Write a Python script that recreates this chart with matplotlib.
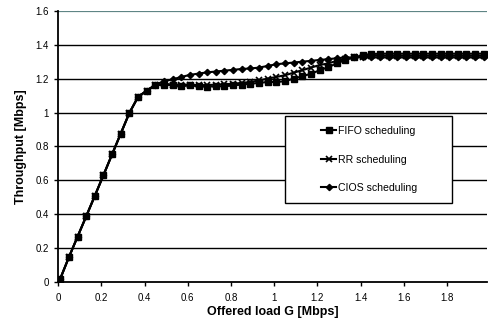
import matplotlib
matplotlib.use("Agg")
import matplotlib.pyplot as plt
from matplotlib.patches import Rectangle

plt.rcParams['font.family'] = ['Liberation Sans', 'DejaVu Sans']

# offered load G [Mbps]
carga = [0.00, 0.01, 0.05, 0.09, 0.13, 0.17, 0.21, 0.25, 0.29, 0.33,
         0.37, 0.41, 0.45, 0.49, 0.53, 0.57, 0.61, 0.65, 0.69, 0.73,
         0.77, 0.81, 0.85, 0.89, 0.93, 0.97, 1.01, 1.05, 1.09, 1.13,
         1.17, 1.21, 1.25, 1.29, 1.33, 1.37, 1.41, 1.45, 1.49, 1.53,
         1.57, 1.61, 1.65, 1.69, 1.73, 1.77, 1.81, 1.85, 1.89, 1.93,
         1.97]

fifo = [0.000, 0.020, 0.147, 0.268, 0.388, 0.509, 0.631, 0.754, 0.876, 0.998,
        1.092, 1.129, 1.160, 1.165, 1.160, 1.155, 1.160, 1.155, 1.153, 1.155,
        1.155, 1.160, 1.165, 1.170, 1.175, 1.180, 1.180, 1.185, 1.200, 1.214,
        1.229, 1.249, 1.268, 1.290, 1.310, 1.327, 1.337, 1.345, 1.347, 1.347,
        1.347, 1.347, 1.347, 1.347, 1.347, 1.347, 1.347, 1.347, 1.347, 1.347,
        1.347]

rr = [0.000, 0.020, 0.147, 0.268, 0.388, 0.509, 0.631, 0.754, 0.876, 0.998,
      1.092, 1.129, 1.160, 1.170, 1.165, 1.165, 1.165, 1.162, 1.162, 1.165,
      1.167, 1.170, 1.175, 1.180, 1.190, 1.200, 1.210, 1.220, 1.235, 1.250,
      1.265, 1.280, 1.290, 1.305, 1.315, 1.325, 1.330, 1.335, 1.335, 1.335,
      1.335, 1.335, 1.335, 1.335, 1.335, 1.335, 1.335, 1.335, 1.335, 1.335,
      1.335]

cios = [0.000, 0.020, 0.147, 0.268, 0.388, 0.509, 0.631, 0.754, 0.876, 0.998,
        1.092, 1.129, 1.165, 1.184, 1.196, 1.210, 1.222, 1.230, 1.237, 1.242,
        1.247, 1.252, 1.257, 1.260, 1.265, 1.275, 1.285, 1.290, 1.295, 1.300,
        1.305, 1.310, 1.315, 1.320, 1.325, 1.325, 1.325, 1.325, 1.325, 1.325,
        1.325, 1.325, 1.325, 1.325, 1.325, 1.325, 1.325, 1.325, 1.325, 1.325,
        1.325]

x_ticks = [0, 0.2, 0.4, 0.6, 0.8, 1.0, 1.2, 1.4, 1.6, 1.8]
x_labels = ['0', '0.2', '0.4', '0.6', '0.8', '1', '1.2', '1.4', '1.6', '1.8']
y_ticks = [0, 0.2, 0.4, 0.6, 0.8, 1.0, 1.2, 1.4, 1.6]
y_labels = ['0', '0.2', '0.4', '0.6', '0.8', '1', '1.2', '1.4', '1.6']

fig = plt.figure(figsize=(4.88, 3.27), dpi=100)
ax = fig.add_axes([0.119, 0.137, 0.879, 0.830])

# grade horizontal estilo excel
for y in y_ticks[1:-1]:
    ax.axhline(y, color='black', lw=1.0, zorder=1)
ax.axhline(1.6, color='#5f8585', lw=1.6, zorder=1)

ax.plot(carga, fifo, color='black', lw=1.5, marker='s', ms=4.5,
        label='FIFO scheduling', zorder=3)
ax.plot(carga, rr, color='black', lw=1.5, marker='x', ms=4.5, mew=1.2,
        label='RR scheduling', zorder=3)
ax.plot(carga, cios, color='black', lw=1.5, marker='D', ms=3.2,
        label='CIOS scheduling', zorder=3)

ax.set_xlim(0, 1.985)
ax.set_ylim(0, 1.6)
ax.set_xticks(x_ticks)
ax.set_xticklabels(x_labels)
ax.set_yticks(y_ticks)
ax.set_yticklabels(y_labels)
ax.tick_params(axis='both', labelsize=7, direction='out', length=3,
               width=1, colors='black')
ax.tick_params(axis='x', pad=5)

for lado in ['top', 'right']:
    ax.spines[lado].set_visible(False)
ax.spines['left'].set_linewidth(1.3)
ax.spines['bottom'].set_linewidth(1.3)
ax.spines['left'].set_zorder(4)
ax.spines['bottom'].set_zorder(4)

ax.set_xlabel('Offered load G [Mbps]', fontsize=9, fontweight='bold', labelpad=2)
ax.set_ylabel('Throughput [Mbps]', fontsize=9, fontweight='bold', labelpad=6)

# caixa da legenda (mais larga que o conteudo, como no excel)
caixa = Rectangle((0.529, 0.292), 0.389, 0.320, transform=ax.transAxes,
                  facecolor='white', edgecolor='black', lw=1.0, zorder=5)
ax.add_patch(caixa)

leg = ax.legend(loc='center', bbox_to_anchor=(0.725, 0.452), fontsize=7.6,
                frameon=False, handlelength=1.4, handletextpad=0.15,
                labelspacing=1.75, borderpad=0, borderaxespad=0)
leg.set_zorder(6)

fig.savefig('out.png', dpi=100)
